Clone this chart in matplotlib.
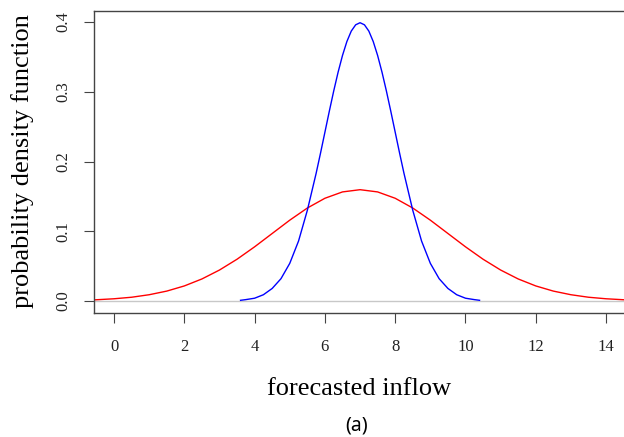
import matplotlib
matplotlib.use("Agg")
import matplotlib.pyplot as plt

# values
blue_x = [3.6, 3.75, 4.0, 4.25, 4.5, 4.75, 5.0, 5.25, 5.5, 5.75, 5.875, 6.0, 6.125, 6.25, 6.375, 6.5,
          6.625, 6.75, 6.875, 7.0, 7.125, 7.25, 7.375, 7.5, 7.625, 7.75, 7.875, 8.0, 8.125,
          8.25, 8.5, 8.75, 9.0, 9.25, 9.5, 9.75, 10.0, 10.25, 10.4]
blue_y = [0.001, 0.002, 0.004, 0.009, 0.018, 0.032, 0.054, 0.086, 0.130, 0.183, 0.212, 0.242, 0.272, 0.301, 0.328, 0.352,
          0.372, 0.387, 0.396, 0.399, 0.396, 0.387, 0.372, 0.352, 0.328, 0.301, 0.272, 0.242, 0.212,
          0.183, 0.130, 0.086, 0.054, 0.032, 0.018, 0.009, 0.004, 0.002, 0.001]

red_x = [-0.6, -0.5, 0.0, 0.5, 1.0, 1.5, 2.0, 2.5, 3.0, 3.5, 4.0, 4.5, 5.0, 5.5, 6.0, 6.5, 7.0,
         7.5, 8.0, 8.5, 9.0, 9.5, 10.0, 10.5, 11.0, 11.5, 12.0, 12.5, 13.0, 13.5, 14.0, 14.5, 14.6]
red_y = [0.0016, 0.0018, 0.0032, 0.0054, 0.0090, 0.0142, 0.0216, 0.0316, 0.0444, 0.0599, 0.0777, 0.0968, 0.1159, 0.1333, 0.1473, 0.1564, 0.1596,
         0.1564, 0.1473, 0.1333, 0.1159, 0.0968, 0.0777, 0.0599, 0.0444, 0.0316, 0.0216, 0.0142, 0.0090, 0.0054, 0.0032, 0.0018, 0.0016]

x_ticks = [0, 2, 4, 6, 8, 10, 12, 14]
y_ticks = [0.0, 0.1, 0.2, 0.3, 0.4]

serif = ["Liberation Serif", "DejaVu Serif"]

fig = plt.figure(figsize=(6.24, 4.37), dpi=100)
ax = fig.add_axes([94 / 624, 1 - 313 / 437, 1 - 94 / 624, 302 / 437])

ax.axhline(0, color="#c8c8c8", lw=1.0, zorder=1)
ax.plot(red_x, red_y, color="#ff0000", lw=1.0, zorder=2)
ax.plot(blue_x, blue_y, color="#0000ff", lw=1.0, zorder=3)

ax.set_xlim(-0.57, 14.51)
ax.set_ylim(-0.0172, 0.4158)

ax.set_xticks(x_ticks)
ax.set_xticklabels([str(v) for v in x_ticks], family=serif, fontsize=12, color="#222222")
ax.set_yticks(y_ticks)
ax.set_yticklabels(["%.1f" % v for v in y_ticks], family=serif, fontsize=12, color="#222222",
                   rotation=90, va="center")
ax.tick_params(direction="out", length=7.2, width=0.8, color="#444444")
ax.tick_params(axis="x", pad=11.5)
ax.tick_params(axis="y", pad=9)

for s in ["left", "bottom", "top"]:
    ax.spines[s].set_color("#444444")
    ax.spines[s].set_linewidth(1.0)
ax.spines["right"].set_visible(False)

fig.text(359 / 624, 1 - 395 / 437, "forecasted inflow", family=serif, fontsize=19,
         ha="center", va="baseline")
fig.text(23 / 624, 1 - 161 / 437, "probability density function", family=serif, fontsize=19,
         rotation=90, ha="center", va="center")
fig.text(357 / 624, 1 - 425 / 437, "(a)", family=["Noto Sans", "DejaVu Sans"], fontsize=14,
         ha="center", va="center")

fig.savefig("out.png", dpi=100)
